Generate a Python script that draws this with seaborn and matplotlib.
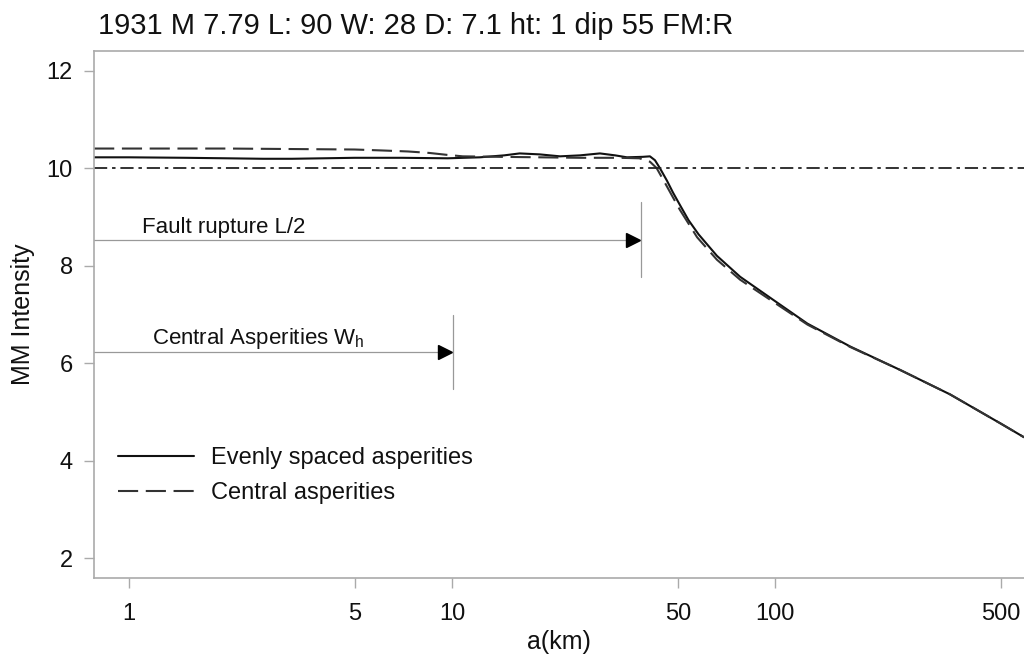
import matplotlib
matplotlib.use("Agg")
import matplotlib.pyplot as plt
import seaborn as sns
import numpy as np
import pandas as pd

# ---- data ----
even_km = [0.78, 1.0, 1.5, 2.0, 2.6, 3.2, 4.0, 5.0, 7.0, 9.7, 12.2, 14.5, 16.2, 18.7,
           21.6, 24.9, 28.7, 32.0, 34.8, 39.0, 41.0, 42.5, 44.0, 46.3, 48.3, 50.8,
           54.0, 58.0, 66.1, 78.0, 98.6, 126, 171, 244, 348, 500, 590]
even_mmi = [10.22, 10.22, 10.21, 10.20, 10.19, 10.19, 10.20, 10.21, 10.21, 10.20, 10.22,
            10.26, 10.30, 10.28, 10.24, 10.26, 10.30, 10.26, 10.22, 10.23, 10.24, 10.16,
            10.00, 9.74, 9.50, 9.24, 8.93, 8.64, 8.20, 7.77, 7.30, 6.81, 6.34, 5.86, 5.36,
            4.76, 4.48]

central_km = [0.78, 2.0, 5.0, 6.1, 7.3, 8.5, 9.66, 10.8, 14.0, 18.7, 24.9, 33.0, 38.0,
              41.0, 43.0, 45.6, 48.3, 50.8, 57.4, 66.1, 78.0, 98.6, 126, 171, 244, 348,
              500, 590]
central_mmi = [10.40, 10.40, 10.38, 10.36, 10.34, 10.31, 10.27, 10.24, 10.23, 10.22, 10.21,
               10.21, 10.20, 10.13, 10.00, 9.70, 9.40, 9.14, 8.58, 8.12, 7.71, 7.26, 6.79,
               6.33, 5.86, 5.36, 4.76, 4.48]

series_labels = ["Evenly spaced asperities", "Central asperities"]
ref_level = 10
x_ticks = [1, 5, 10, 50, 100, 500]
y_ticks = [2, 4, 6, 8, 10, 12]
title = "1931 M 7.79 L: 90 W: 28 D: 7.1 ht: 1 dip 55 FM:R"

# ---- style ----
sns.set_style("ticks")
plt.rcParams["font.family"] = ["Liberation Sans", "DejaVu Sans"]
plt.rcParams["mathtext.fontset"] = "custom"
plt.rcParams["mathtext.rm"] = "Liberation Sans"
plt.rcParams["mathtext.it"] = "Liberation Sans"
plt.rcParams["lines.scale_dashes"] = False

fig = plt.figure(figsize=(10.24, 6.58), dpi=100)
ax = fig.add_axes([94.3 / 1024, 1 - 577.7 / 658, 1 - 94.3 / 1024, (577.7 - 51) / 658])

df_even = pd.DataFrame({"km": even_km, "mmi": even_mmi})
df_central = pd.DataFrame({"km": central_km, "mmi": central_mmi})

sns.lineplot(data=df_even, x="km", y="mmi", ax=ax, color="#111111", lw=1.5,
             label=series_labels[0], estimator=None, sort=False)
sns.lineplot(data=df_central, x="km", y="mmi", ax=ax, color="#333333", lw=1.5,
             label=series_labels[1], estimator=None, sort=False)
ax.lines[1].set_dashes((14.5, 5.5))

ax.axhline(ref_level, color="#222222", lw=1.3, dashes=(9.5, 3.5, 2.5, 3.5))

ax.set_xscale("log")
ax.set_xlim(0.781, 590)
ax.set_ylim(1.6, 12.4)
ax.set_xticks(x_ticks)
ax.set_xticklabels([str(t) for t in x_ticks])
ax.xaxis.set_minor_locator(matplotlib.ticker.NullLocator())
ax.set_yticks(y_ticks)
ax.set_yticklabels([str(t) for t in y_ticks])

for side in ["left", "bottom", "top"]:
    ax.spines[side].set_color("#aaaaaa")
    ax.spines[side].set_linewidth(1.2)
ax.spines["right"].set_visible(False)
ax.tick_params(axis="both", direction="out", length=7.5, width=1.0, color="#aaaaaa",
               labelsize=17, labelcolor="#111111")
ax.tick_params(axis="x", pad=11)
ax.tick_params(axis="y", pad=8)

ax.set_xlabel("a(km)", fontsize=18, color="#111111", labelpad=3)
ax.set_ylabel("MM Intensity", fontsize=18, color="#111111", labelpad=8)
ax.set_title(title, loc="left", fontsize=21, pad=12.5, color="#111111", x=0.004)

# annotations: fault rupture
ax.plot([0.781, 36.0], [8.53, 8.53], color="#999999", lw=0.9)
ax.plot([36.3], [8.53], marker=">", color="black", markersize=10, lw=0)
ax.plot([38.6, 38.6], [7.77, 9.31], color="#999999", lw=0.9)
ax.text(1.095, 8.67, "Fault rupture L/2", fontsize=16, color="#111111", va="baseline")

# annotations: central asperities
ax.plot([0.781, 9.4], [6.23, 6.23], color="#999999", lw=0.9)
ax.plot([9.5], [6.23], marker=">", color="black", markersize=10, lw=0)
ax.plot([10.05, 10.05], [5.47, 6.99], color="#999999", lw=0.9)
ax.text(1.176, 6.39, "Central Asperities W$_\\mathrm{h}$", fontsize=16, color="#111111",
        va="baseline")

leg = ax.legend(loc="center left", bbox_to_anchor=(118 / 1024, 1 - 475.7 / 658),
                bbox_transform=fig.transFigure, frameon=False, fontsize=17,
                handlelength=3.2, handletextpad=0.75, labelspacing=0.55,
                borderpad=0, borderaxespad=0)
for txt in leg.get_texts():
    txt.set_color("#111111")
leg.get_lines()[1].set_dashes((14.5, 5.5))

fig.savefig("out.png", dpi=100)
